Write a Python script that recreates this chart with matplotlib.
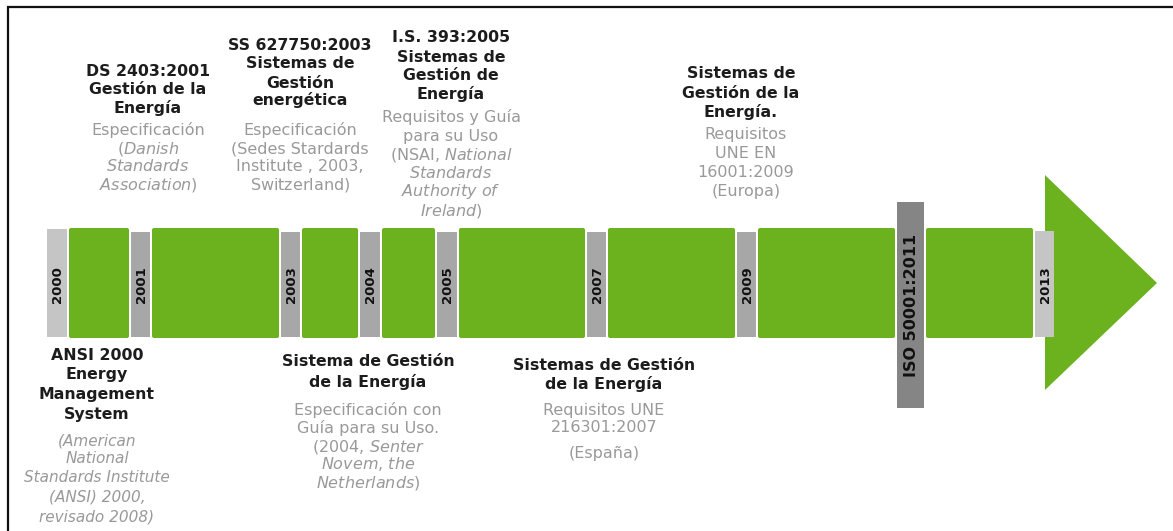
import matplotlib
matplotlib.use("Agg")
import matplotlib.pyplot as plt
from matplotlib.patches import Rectangle, Polygon, FancyBboxPatch

plt.rcParams['font.family'] = ['DejaVu Sans']
plt.rcParams['mathtext.fontset'] = 'custom'
plt.rcParams['mathtext.rm'] = 'DejaVu Sans'
plt.rcParams['mathtext.it'] = 'DejaVu Sans:italic'
plt.rcParams['mathtext.bf'] = 'DejaVu Sans:bold'

# ---------------- data ----------------
year_labels = ["2000", "2001", "2003", "2004", "2005", "2007", "2009", "ISO 50001:2011", "2013"]
marker_kind = ["light", "mid", "mid", "mid", "mid", "mid", "mid", "dark", "light"]

# text blocks: title lines, description lines (segments: text, italic)
ds_title = ["DS 2403:2001", "Gestión de la", "Energía"]
ds_desc = [[("Especificación", 0)], [("(", 0), ("Danish", 1)], [("Standards", 1)], [("Association)", 1)]]

ss_title = ["SS 627750:2003", "Sistemas de", "Gestión", "energética"]
ss_desc = [[("Especificación", 0)], [("(Sedes Stardards", 0)], [("Institute , 2003,", 0)],
           [("Switzerland", 0), (")", 1)]]

is_title = ["I.S. 393:2005", "Sistemas de", "Gestión de", "Energía"]
is_desc = [[("Requisitos y Guía", 0)], [("para su Uso", 0)], [("(NSAI, ", 0), ("National", 1)],
           [("Standards", 1)], [("Authority of", 1)], [("Ireland", 1), (")", 0)]]

en_title = ["Sistemas de", "Gestión de la", "Energía."]
en_desc = [[("Requisitos", 0)], [("UNE EN", 0)], [("16001:2009", 0)], [("(Europa)", 0)]]

ansi_title = ["ANSI 2000", "Energy", "Management", "System"]
ansi_desc = [[("(American", 1)], [("National", 1)], [("Standards Institute", 1)],
             [("(ANSI) 2000,", 1)], [("revisado 2008)", 1)]]

nl_title = ["Sistema de Gestión", "de la Energía"]
nl_desc = [[("Especificación con", 0)], [("Guía para su Uso.", 0)], [("(2004, ", 0), ("Senter", 1)],
           [("Novem, the", 1)], [("Netherlands", 1), (")", 0)]]

es_title = ["Sistemas de Gestión", "de la Energía"]
es_desc = [[("Requisitos UNE", 0)], [("216301:2007", 0)], [("(España)", 0)]]

# ---------------- layout (pixel space) ----------------
W, H = 1173, 531
marker_left = [47, 131, 281, 360, 437, 587, 737, 897, 1035]
marker_right = [67, 150, 300, 380, 457, 606, 756, 924, 1054]
marker_top = [229, 232, 232, 232, 232, 232, 232, 202, 231]
marker_bot = [337, 337, 337, 337, 337, 337, 337, 408, 337]
bar_top, bar_bot = 228, 338
arrow_x0, arrow_tip = 1045, 1157
arrow_top, arrow_bot = 175, 390

GREEN = "#6cb11e"
GRAYS = {"light": "#c5c5c5", "mid": "#a7a7a7", "dark": "#858585"}
TITLE_C = "#1c1c1c"
DESC_C = "#999999"

fig = plt.figure(figsize=(W / 100, H / 100), dpi=100)
ax = fig.add_axes([0, 0, 1, 1])
ax.set_xlim(0, W)
ax.set_ylim(H, 0)
ax.axis("off")

# frame lines (top and left)
ax.plot([7, W], [6.5, 6.5], color="#111111", lw=1.6, solid_capstyle="butt")
ax.plot([7.5, 7.5], [6, H], color="#111111", lw=1.6, solid_capstyle="butt")

# arrow head
ax.add_patch(Polygon([(arrow_x0, arrow_top), (arrow_tip, (bar_top + bar_bot) / 2),
                      (arrow_x0, arrow_bot)], closed=True, facecolor=GREEN,
                     edgecolor="none", zorder=2))

# green blocks between markers
for i in range(len(marker_left) - 1):
    x0 = marker_right[i] + 2
    x1 = marker_left[i + 1] - 2
    ax.add_patch(FancyBboxPatch((x0, bar_top), x1 - x0, bar_bot - bar_top,
                                boxstyle="round,pad=0,rounding_size=2",
                                facecolor=GREEN, edgecolor="none", zorder=2))

# year markers
for lab, kind, l, r, t, b in zip(year_labels, marker_kind, marker_left, marker_right,
                                  marker_top, marker_bot):
    ax.add_patch(Rectangle((l, t), r - l, b - t, facecolor=GRAYS[kind],
                           edgecolor="none", zorder=3))
    fs = 11.5 if kind == "dark" else 9.5
    cy = (t + b) / 2 if kind == "dark" else 285
    ax.text((l + r) / 2 + 0.5, cy, lab, rotation=90, ha="center", va="center",
            fontsize=fs, fontweight="bold", color="#111111", zorder=4)


def seg_str(segs):
    out = ""
    for txt, ital in segs:
        if ital:
            body = txt.replace(",", "{,}").replace(" ", r"\ ")
            out += r"$\mathit{" + body + "}$"
        else:
            out += txt
    return out


def block(x, title, tys, desc, dys, dx=0, desc_fs=11.5, all_italic=False):
    for s, y in zip(title, tys):
        ax.text(x, y + 5.5, s, ha="center", va="baseline", fontsize=11.3,
                fontweight="bold", color=TITLE_C)
    for segs, y in zip(desc, dys):
        if all_italic:
            s = "".join(t for t, _ in segs)
            ax.text(x + dx, y + 5, s, ha="center", va="baseline", fontsize=desc_fs,
                    style="italic", color=DESC_C)
        else:
            ax.text(x + dx, y + 5, seg_str(segs), ha="center", va="baseline",
                    fontsize=desc_fs, color=DESC_C)


block(148, ds_title, [71, 89, 107], ds_desc, [130, 148, 166, 184])
block(300, ss_title, [44, 63, 82, 100], ss_desc, [130, 148, 166, 184])
block(451, is_title, [37, 56, 75, 94], is_desc, [117, 136, 155, 173, 191, 210])
block(741, en_title, [73, 92, 111], en_desc, [134, 153, 172, 191], dx=5)
block(97, ansi_title, [354, 374, 394, 414], ansi_desc, [440, 458, 477, 496, 516],
      desc_fs=11, all_italic=True)
block(368, nl_title, [361, 382], nl_desc, [410, 428, 446, 464, 483])
block(604, es_title, [365, 384], es_desc, [410, 427, 453])

fig.savefig("out.png", dpi=100)
